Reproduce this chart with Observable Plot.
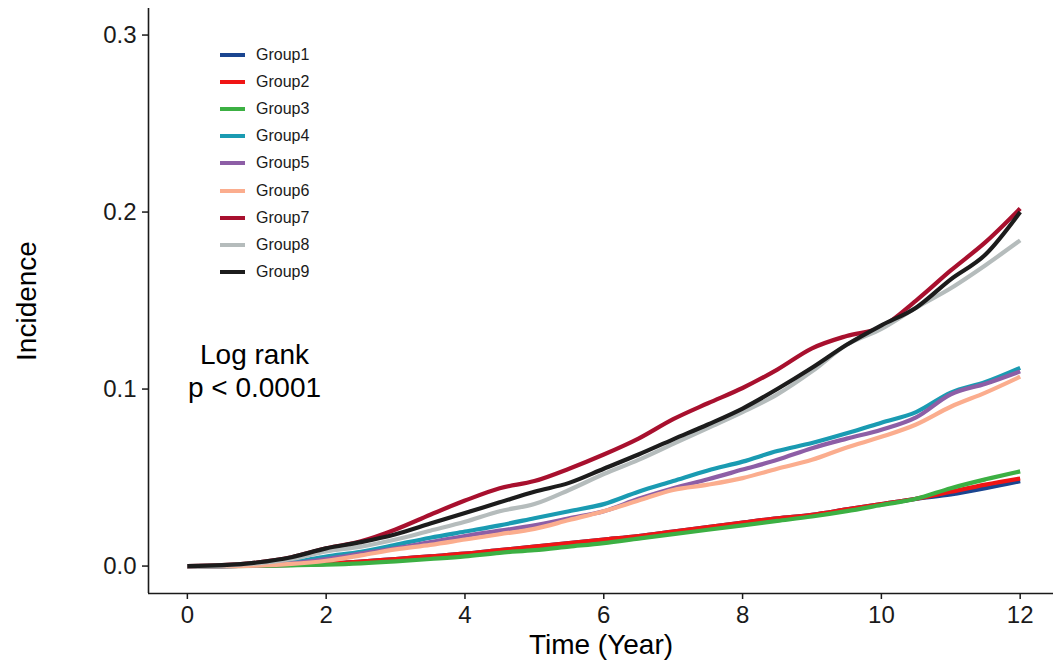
<!DOCTYPE html>
<html>
<head>
<meta charset="utf-8">
<script src="https://cdn.jsdelivr.net/npm/d3@7"></script>
<script src="https://cdn.jsdelivr.net/npm/@observablehq/plot@0.6"></script>
<style>
  body { margin: 0; background: #fff; }
  #chart { position: relative; width: 1053px; height: 665px; font-family: "Liberation Sans", Arial, sans-serif; }
  #legend { position: absolute; left: 220px; top: 41.5px; }
  .row { display: flex; align-items: center; height: 27.1px; font-size: 16px; color: #1a1a1a; }
  .sw { width: 25px; height: 4px; margin-right: 11px; }
</style>
</head>
<body>
<div id="chart"></div>
<script>
// Follow-up time (years) at which the cumulative incidence is recorded
const years = [0, 0.5, 1, 1.5, 2, 2.5, 3, 3.5, 4, 4.5, 5, 5.5, 6, 6.5, 7, 7.5, 8, 8.5, 9, 9.5, 10, 10.5, 11, 11.5, 12];

// Cumulative incidence per group
const group1 = [0, 0, 0.0003, 0.0007, 0.0012, 0.0025, 0.004, 0.0055, 0.007, 0.009, 0.011, 0.013, 0.015, 0.017, 0.0195, 0.022, 0.0245, 0.027, 0.029, 0.032, 0.035, 0.038, 0.0405, 0.044, 0.048];
const group2 = [0, 0, 0.0003, 0.0007, 0.0012, 0.0025, 0.004, 0.0055, 0.007, 0.009, 0.011, 0.013, 0.015, 0.017, 0.0195, 0.022, 0.0245, 0.027, 0.029, 0.032, 0.035, 0.038, 0.042, 0.046, 0.0495];
const group3 = [0, 0, 0.0001, 0.0004, 0.0008, 0.0015, 0.0026, 0.004, 0.0055, 0.0075, 0.009, 0.011, 0.013, 0.0155, 0.018, 0.0205, 0.023, 0.0255, 0.028, 0.031, 0.0345, 0.038, 0.044, 0.049, 0.0535];
const group4 = [0, 0, 0.0005, 0.002, 0.0054, 0.008, 0.012, 0.016, 0.0195, 0.023, 0.027, 0.031, 0.035, 0.042, 0.048, 0.054, 0.059, 0.065, 0.0695, 0.075, 0.081, 0.087, 0.098, 0.104, 0.112];
const group5 = [0, 0, 0.0004, 0.0015, 0.004, 0.007, 0.010, 0.0135, 0.017, 0.020, 0.023, 0.027, 0.031, 0.038, 0.044, 0.049, 0.0545, 0.060, 0.0666, 0.072, 0.077, 0.084, 0.097, 0.103, 0.110];
const group6 = [0, 0, 0.0003, 0.0012, 0.003, 0.006, 0.0094, 0.012, 0.015, 0.018, 0.021, 0.026, 0.031, 0.037, 0.043, 0.046, 0.0497, 0.055, 0.060, 0.067, 0.073, 0.080, 0.090, 0.098, 0.107];
const group7 = [0, 0.0005, 0.002, 0.005, 0.010, 0.014, 0.0207, 0.029, 0.037, 0.044, 0.048, 0.055, 0.063, 0.072, 0.083, 0.092, 0.1006, 0.111, 0.123, 0.130, 0.135, 0.150, 0.167, 0.183, 0.202];
const group8 = [0, 0.0003, 0.0015, 0.004, 0.0083, 0.011, 0.015, 0.020, 0.025, 0.031, 0.035, 0.043, 0.052, 0.060, 0.069, 0.078, 0.087, 0.097, 0.110, 0.125, 0.134, 0.146, 0.157, 0.170, 0.184];
const group9 = [0, 0.0005, 0.002, 0.005, 0.010, 0.0135, 0.018, 0.024, 0.030, 0.036, 0.042, 0.047, 0.055, 0.063, 0.0716, 0.080, 0.089, 0.100, 0.112, 0.125, 0.136, 0.146, 0.162, 0.176, 0.200];

const groupNames = ["Group1", "Group2", "Group3", "Group4", "Group5", "Group6", "Group7", "Group8", "Group9"];
const groupColors = ["#1a4590", "#f01515", "#3cb043", "#1a9bb2", "#8d5ea6", "#fbad8e", "#a8102e", "#b5bcbc", "#1c1c1c"];
const groupSeries = [group1, group2, group3, group4, group5, group6, group7, group8, group9];

const xTicks = [0, 2, 4, 6, 8, 10, 12];
const yTicks = [0, 0.1, 0.2, 0.3];
const annotation = "Log rank\np < 0.0001";

// Long-format table for the line mark
const rows = groupNames.flatMap((g, i) =>
  years.map((t, j) => ({ group: g, time: t, value: groupSeries[i][j] }))
);

const xDomain = [-0.56, 12.48];
const yDomain = [-0.0155, 0.315];
const font = "'Liberation Sans', Arial, sans-serif";

const chart = Plot.plot({
  width: 1053,
  height: 665,
  marginLeft: 148,
  marginRight: 0,
  marginTop: 8,
  marginBottom: 72,
  style: { fontFamily: font, background: "#fff", color: "#1a1a1a", overflow: "visible" },
  x: { domain: xDomain },
  y: { domain: yDomain },
  color: { domain: groupNames, range: groupColors },
  marks: [
    Plot.axisX({ ticks: xTicks, tickFormat: d => String(d), tickSize: 6, tickPadding: 6, fontSize: 24, strokeWidth: 1.5, label: null }),
    Plot.axisY({ ticks: yTicks, tickFormat: d3.format(".1f"), tickSize: 6, tickPadding: 6, fontSize: 24, strokeWidth: 1.5, label: null }),
    Plot.ruleX([xDomain[0]], { stroke: "#1a1a1a", strokeWidth: 1.6 }),
    Plot.ruleY([yDomain[0]], { stroke: "#1a1a1a", strokeWidth: 1.6 }),
    Plot.line(rows, {
      x: "time", y: "value", z: "group", stroke: "group", curve: "monotone-x",
      strokeWidth: 4.2, strokeLinejoin: "round", strokeLinecap: "butt"
    }),
    Plot.text([annotation], {
      x: 0.967, y: 0.1107, text: d => d,
      fontSize: 28, lineHeight: 1.15, lineAnchor: "middle", textAnchor: "middle", fill: "#000"
    }),
    Plot.text(["Time (Year)"], {
      frameAnchor: "bottom", text: d => d, dy: 60, lineAnchor: "bottom", fontSize: 28, fill: "#000"
    }),
    Plot.text(["Incidence"], {
      frameAnchor: "left", text: d => d, rotate: -90, dx: -121, textAnchor: "middle", lineAnchor: "middle", fontSize: 28, fill: "#000"
    })
  ]
});

const container = document.getElementById("chart");
container.appendChild(chart);

// Legend listing each group with its line colour
const legend = document.createElement("div");
legend.id = "legend";
groupNames.forEach((g, i) => {
  const row = document.createElement("div");
  row.className = "row";
  const sw = document.createElement("span");
  sw.className = "sw";
  sw.style.background = groupColors[i];
  const label = document.createElement("span");
  label.textContent = g;
  row.appendChild(sw);
  row.appendChild(label);
  legend.appendChild(row);
});
container.appendChild(legend);
</script>
</body>
</html>
